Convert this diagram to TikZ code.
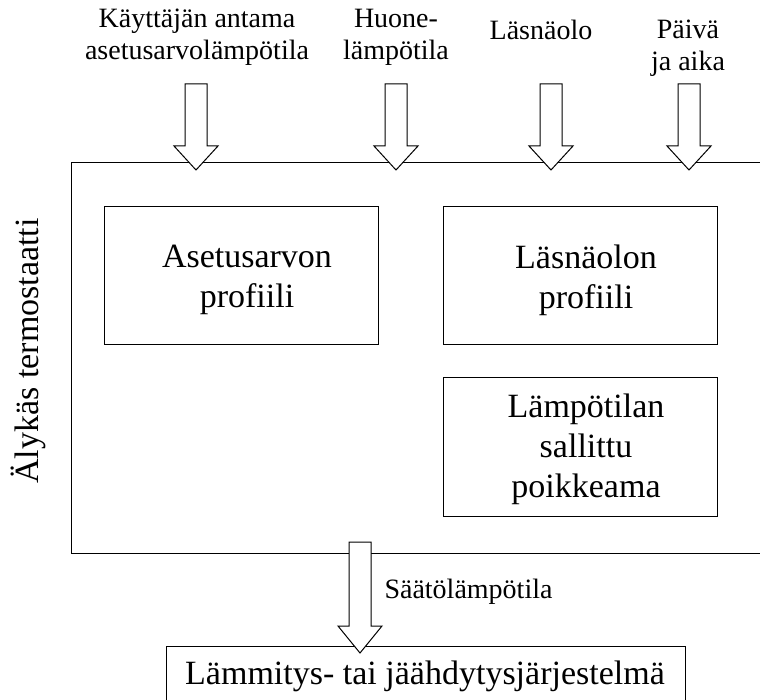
\documentclass[tikz,border=0pt]{standalone}
\usepackage{fontspec}
\setmainfont{Liberation Serif}
\begin{document}
\begin{tikzpicture}[x=1pt,y=-1pt,
  line width=1pt,
  frame/.style={draw, line width=1pt, inner sep=0pt},
  boxtext/.style={align=center, inner sep=0pt, font=\fontsize{34}{40}\selectfont},
  lbl/.style={align=center, inner sep=0pt, font=\fontsize{28}{32}\selectfont},
  arrowbox/.style={draw, fill=white, line width=1pt, line join=miter},
  pics/blockarr/.style 2 args={code={
    \draw[arrowbox] (-11,0) -- (11,0) -- (11,#1-#2) -- (22,#1-#2) -- (0,#1)
      -- (-22,#1-#2) -- (-11,#1-#2) -- cycle;}}
]
\useasboundingbox (0,0) rectangle (760,700);

% thermostat frame, open to the right
\draw (760,163) -- (71,163) -- (71,553) -- (760,553);
\node[rotate=90, font=\fontsize{34}{40}\selectfont, inner sep=0pt] (thermo) at (28,351) {Älykäs termostaatti};

% inner blocks
\node[frame, minimum width=274pt, minimum height=138pt] (setp) at (241,276) {};
\node[frame, minimum width=274pt, minimum height=138pt] (pres) at (580,276) {};
\node[frame, minimum width=274pt, minimum height=139pt] (dev) at (580,446.5) {};
\node[boxtext] (setpt) at ([shift={(6,4)}]setp.center) {Asetusarvon\\profiili};
\node[boxtext] (prest) at ([shift={(6,4)}]pres.center) {Läsnäolon\\profiili};
\node[boxtext] (devt) at ([shift={(6,3)}]dev.center) {Lämpötilan\\sallittu\\poikkeama};

% input labels
\node[lbl] (in1) at (197,37) {Käyttäjän antama\\asetusarvolämpötila};
\node[lbl] (in2) at (396,37) {Huone-\\lämpötila};
\node[lbl] (in3) at (541,30) {Läsnäolo};
\node[lbl] (in4) at (688,48) {Päivä\\ja aika};

% input arrows
\pic at (196,84) {blockarr={86}{24}};
\pic at (396,84) {blockarr={86}{24}};
\pic at (551,84) {blockarr={86}{24}};
\pic at (689,84) {blockarr={86}{24}};

% output system block (runs past the lower edge)
\draw (166,720) -- (166,646) -- (685,646) -- (685,720);
\node[boxtext] (sys) at (425,676) {Lämmitys- tai jäähdytysjärjestelmä};

% output arrow
\pic at (360,542) {blockarr={111}{27}};
\node[lbl, anchor=west] (out) at (384,592) {Säätölämpötila};
\end{tikzpicture}
\end{document}
